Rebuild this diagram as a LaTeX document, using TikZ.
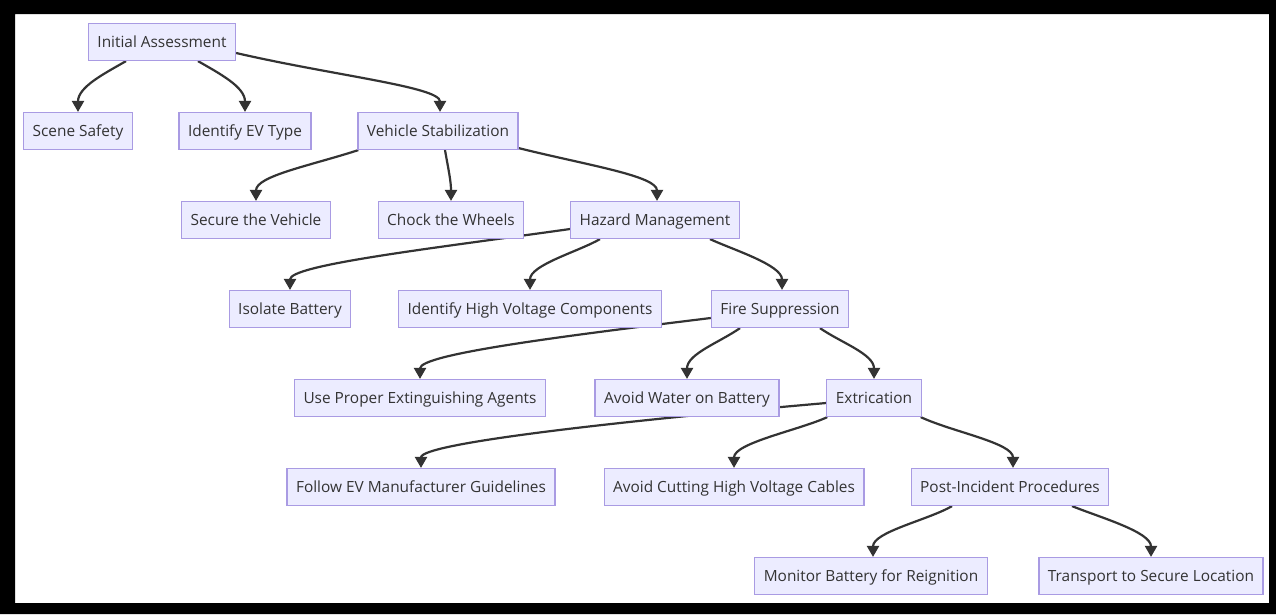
\documentclass[tikz,border=0pt]{standalone}
\usepackage{fontspec}
\setmainfont{Open Sans}
\usepackage{tikz}
\usetikzlibrary{arrows.meta,backgrounds}
\definecolor{boxfill}{HTML}{ECECFF}
\definecolor{boxline}{HTML}{A99BE3}
\definecolor{ink}{HTML}{333333}

\begin{document}
\begin{tikzpicture}[x=1pt,y=1pt,>={Triangle[length=11pt,width=12pt]},node distance=89pt,
  box node/.style={rectangle,fill=boxfill,draw=boxline,line width=1.2pt,text=ink,
    minimum height=37pt,inner xsep=9pt,text height=11.5pt,text depth=0.5pt,
    font=\fontsize{15.4}{18}\selectfont},
  link/.style={draw=ink,line width=2.2pt}]
  \useasboundingbox (0,0) rectangle (1276,-614);
  \fill[black,even odd rule] (0,0) rectangle (1276,-614) (15,-14) rectangle (1269,-603);

  \node[box node] (ia) at (162,-42) {Initial Assessment};
  \node[box node] (ss) [below of=ia, xshift=-84pt] {Scene Safety};
  \node[box node] (evt) [below of=ia, xshift=83pt] {Identify EV Type};
  \node[box node] (vs) [below of=ia, xshift=276pt] {Vehicle Stabilization};
  \node[box node] (sv) [below of=vs, xshift=-182pt] {Secure the Vehicle};
  \node[box node] (cw) [below of=vs, xshift=13pt] {Chock the Wheels};
  \node[box node] (hm) [below of=vs, xshift=217pt] {Hazard Management};
  \node[box node] (ib) [below of=hm, xshift=-365pt] {Isolate Battery};
  \node[box node] (ihv) [below of=hm, xshift=-125pt] {Identify High Voltage Components};
  \node[box node] (fs) [below of=hm, xshift=125pt] {Fire Suppression};
  \node[box node] (upe) [below of=fs, xshift=-360pt] {Use Proper Extinguishing Agents};
  \node[box node] (aw) [below of=fs, xshift=-93pt] {Avoid Water on Battery};
  \node[box node] (ext) [below of=fs, xshift=94pt] {Extrication};
  \node[box node] (fev) [below of=ext, xshift=-453pt] {Follow EV Manufacturer Guidelines};
  \node[box node] (ac) [below of=ext, xshift=-140pt] {Avoid Cutting High Voltage Cables};
  \node[box node] (pi) [below of=ext, xshift=136pt] {Post-Incident Procedures};
  \node[box node] (mb) [below of=pi, xshift=-139pt] {Monitor Battery for Reignition};
  \node[box node] (ts) [below of=pi, xshift=141pt] {Transport to Secure Location};

  \begin{scope}[on background layer]
  \fill[white] (15,-14) rectangle (1269,-603);
  \path[->,every edge/.style={link},in=90,in distance=25pt]
    ([xshift=-36pt]ia.south) edge[out=-150,out distance=25pt] (ss.north)
    ([xshift=36pt]ia.south) edge[out=-30,out distance=25pt] (evt.north)
    ([yshift=-11pt]ia.east) edge[out=-13,out distance=100pt] ([xshift=2pt]vs.north)
    ([xshift=1pt]vs.south west) edge[out=-162,out distance=50pt] (sv.north)
    ([xshift=7pt]vs.south) edge[out=-80,out distance=20pt,in distance=20pt] (cw.north)
    ([yshift=2pt]vs.south east) edge[out=-14,out distance=70pt] ([xshift=2pt]hm.north)
    ([yshift=-9pt]hm.west) edge[out=-172,out distance=140pt] (ib.north)
    ([xshift=-55pt]hm.south) edge[out=-150,out distance=25pt] (ihv.north)
    ([xshift=55pt]hm.south) edge[out=-25,out distance=25pt] ([xshift=2pt]fs.north)
    ([yshift=-9pt]fs.west) edge[out=-173,out distance=145pt] (upe.north)
    ([xshift=-40pt]fs.south) edge[out=-145,out distance=25pt] (aw.north)
    ([xshift=40pt]fs.south) edge[out=-35,out distance=25pt] (ext.north)
    ([yshift=-5pt]ext.west) edge[out=-175,out distance=200pt] (fev.north)
    ([xshift=1pt]ext.south west) edge[out=-155,out distance=30pt] (ac.north)
    ([xshift=-1pt]ext.south east) edge[out=-25,out distance=35pt] ([xshift=3pt]pi.north)
    ([xshift=-58pt]pi.south) edge[out=-150,out distance=28pt] ([xshift=2pt]mb.north)
    ([xshift=62pt]pi.south) edge[out=-22,out distance=30pt] (ts.north);
  \end{scope}
\end{tikzpicture}
\end{document}
